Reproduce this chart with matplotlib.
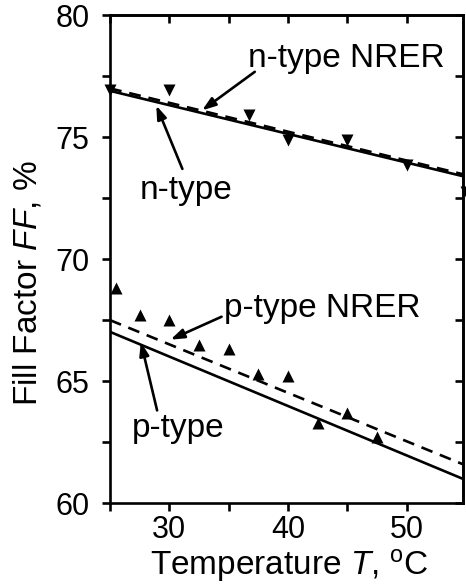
import matplotlib
matplotlib.use("Agg")
import matplotlib.pyplot as plt
from matplotlib.ticker import MultipleLocator

plt.rcParams['font.family'] = ['Liberation Sans', 'DejaVu Sans']
plt.rcParams['mathtext.fontset'] = 'custom'
plt.rcParams['mathtext.rm'] = 'Liberation Sans'
plt.rcParams['mathtext.it'] = 'Liberation Sans:italic'

# data
n_temp = [25, 30, 36.7, 40, 45, 50, 55]
n_ff = [76.95, 76.95, 75.9, 74.9, 74.9, 73.85, 72.75]
p_temp = [25.5, 27.5, 30, 32.5, 35, 37.5, 40, 42.5, 45, 47.5]
p_ff = [68.8, 67.7, 67.5, 66.5, 66.3, 65.3, 65.2, 63.3, 63.7, 62.7]
line_temp = [25, 55]
n_fit = [76.9, 73.37]
n_nrer = [77.0, 73.45]
p_fit = [67.02, 60.94]
p_nrer = [67.5, 61.54]

FS = 24
TFS = 22
LW = 1.9

fig = plt.figure(figsize=(4.66, 5.85), dpi=100)
ax = fig.add_axes([0.236, 0.140, 0.757, 0.834])

ax.plot(line_temp, n_fit, color='black', lw=LW)
ax.plot(line_temp, n_nrer, color='black', lw=LW, dashes=(4.5, 3))
ax.plot(line_temp, p_fit, color='black', lw=LW)
ax.plot(line_temp, p_nrer, color='black', lw=LW, dashes=(4.5, 3))
ax.plot(n_temp, n_ff, 'v', color='black', ms=9, mec='none', clip_on=False, zorder=3)
ax.plot(p_temp, p_ff, '^', color='black', ms=9, mec='none')

ax.set_xlim(25, 54.72)
ax.set_ylim(60, 80)
ax.xaxis.set_major_locator(MultipleLocator(10))
ax.xaxis.set_minor_locator(MultipleLocator(5))
ax.yaxis.set_major_locator(MultipleLocator(5))
ax.yaxis.set_minor_locator(MultipleLocator(2.5))
ax.tick_params(which='both', direction='out', width=LW, length=5.8)
ax.tick_params(axis='x', labelsize=TFS, pad=3)
ax.tick_params(axis='y', labelsize=TFS, pad=9)
for s in ax.spines.values():
    s.set_linewidth(LW)

# inward ticks on top and right
top = ax.secondary_xaxis('top')
top.xaxis.set_major_locator(MultipleLocator(5))
top.tick_params(direction='in', width=LW, length=5.8, labeltop=False)
top.spines['top'].set_linewidth(LW)
right = ax.secondary_yaxis('right')
right.yaxis.set_major_locator(MultipleLocator(2.5))
right.tick_params(direction='in', width=LW, length=5.8, labelright=False)
right.spines['right'].set_linewidth(LW)

fig.text(289.5 / 466, 1 - 565 / 585, r'Temperature $\it{T}$, $^{\rm o}$C',
         fontsize=FS, ha='center', va='center')
fig.text(28 / 466, 1 - 283 / 585, r'Fill Factor $\it{FF}$, %',
         fontsize=FS, ha='center', va='center', rotation=90)

akw = dict(arrowstyle='-|>,head_length=0.8,head_width=0.28', color='black', lw=LW,
           shrinkA=0, shrinkB=0)
ax.annotate('', xy=(32.76, 76.1), xytext=(37.2, 77.68), arrowprops=akw)
ax.text(36.65, 77.88, 'n-type NRER', fontsize=FS, ha='left', va='baseline')
ax.annotate('', xy=(28.9, 76.3), xytext=(31.1, 73.7), arrowprops=akw)
ax.text(27.5, 72.45, 'n-type', fontsize=FS, ha='left', va='baseline')
ax.annotate('', xy=(30.1, 66.7), xytext=(34.4, 67.64), arrowprops=akw)
ax.text(34.57, 67.64, 'p-type NRER', fontsize=FS, ha='left', va='baseline')
ax.annotate('', xy=(27.6, 66.6), xytext=(28.97, 63.8), arrowprops=akw)
ax.text(26.86, 62.72, 'p-type', fontsize=FS, ha='left', va='baseline')

fig.savefig('out.png', dpi=100)
